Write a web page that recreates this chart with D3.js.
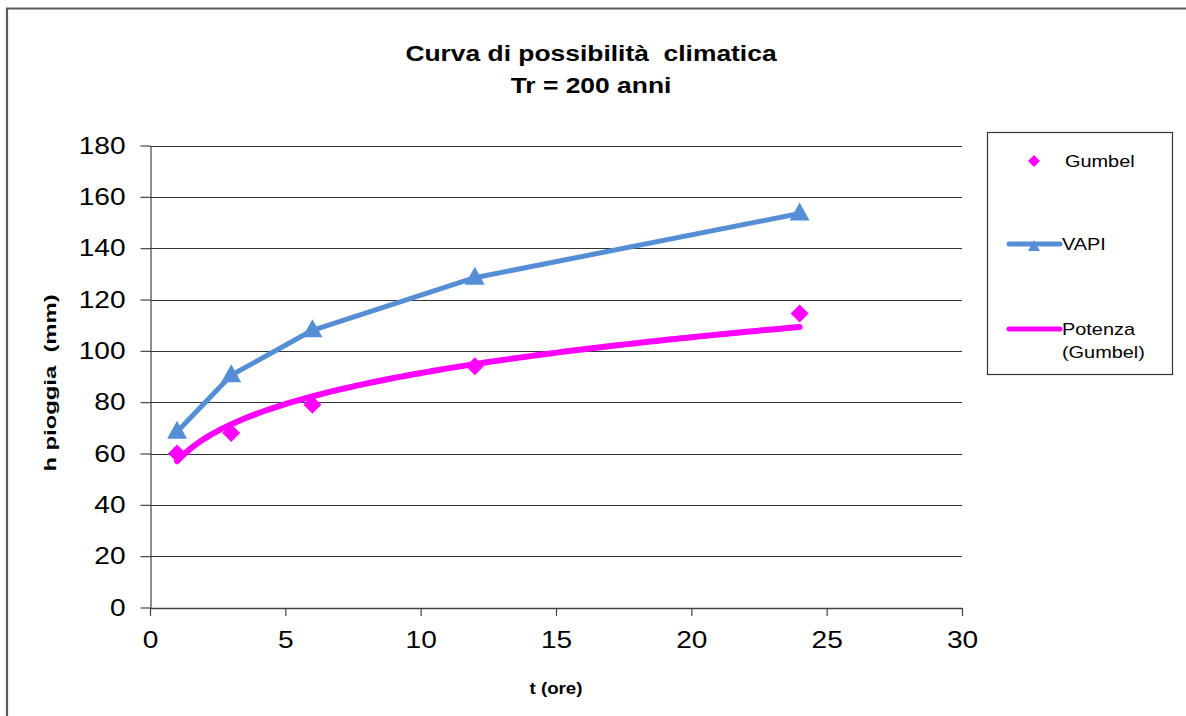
<!DOCTYPE html>
<html>
<head>
<meta charset="utf-8">
<script src="https://cdn.jsdelivr.net/npm/d3@7"></script>
<style>
  html, body { margin: 0; padding: 0; background: #fff; }
  svg { display: block; font-family: "Liberation Sans", Arial, sans-serif; }
  text { white-space: pre; }
</style>
</head>
<body>
<svg id="chart" width="1186" height="716"></svg>
<script>
// Durata dell'evento (ore)
const durations = [1, 3, 6, 12, 24];
// Altezze di pioggia (mm), Tr = 200 anni
const gumbelValues = [60, 68, 79, 94, 114.5];
const vapiValues = [68.5, 90.5, 108, 128.5, 153.5];
// Tick degli assi
const xTicks = [0, 5, 10, 15, 20, 25, 30];
const yTicks = [0, 20, 40, 60, 80, 100, 120, 140, 160, 180];

const titleLines = ["Curva di possibilità  climatica", "Tr = 200 anni"];
const legendLabels = ["Gumbel", "VAPI", ["Potenza", "(Gumbel)"]];

// i testi del grafico sono leggermente allargati nel verso di scrittura
function widen(factor) {
  return sel => sel.each(function () {
    const w = this.getComputedTextLength();
    d3.select(this).attr("textLength", w * factor).attr("lengthAdjust", "spacingAndGlyphs");
  });
}

const svg = d3.select("#chart");
const plot = { left: 150, right: 962, top: 145.5, bottom: 607.5 };

const x = d3.scaleLinear().domain([0, 30]).range([plot.left, plot.right]);
const y = d3.scaleLinear().domain([0, 180]).range([plot.bottom, plot.top]);

// cornice esterna
svg.append("path")
  .attr("d", "M7,716 L7,8.5 L1186,8.5")
  .attr("fill", "none").attr("stroke", "#5a5a5a").attr("stroke-width", 2.2);

// titolo
svg.append("g").selectAll("text").data(titleLines).join("text")
  .attr("x", 591).attr("y", (d, i) => 61 + i * 32)
  .attr("text-anchor", "middle")
  .attr("font-size", 22).attr("font-weight", "bold").attr("fill", "#000")
  .text(d => d)
  .call(widen(1.2));

// griglia orizzontale
svg.append("g").selectAll("line").data(yTicks.filter(v => v > 0)).join("line")
  .attr("x1", plot.left).attr("x2", plot.right)
  .attr("y1", d => Math.round(y(d)) + 0.5).attr("y2", d => Math.round(y(d)) + 0.5)
  .attr("stroke", "#333").attr("stroke-width", 1.2);

// asse Y
const yAxis = svg.append("g").attr("transform", `translate(${plot.left + 0.5},0)`)
  .call(d3.axisLeft(y).tickValues(yTicks).tickSize(10).tickPadding(15).tickSizeOuter(0));
yAxis.select(".domain").attr("stroke", "#444").attr("stroke-width", 1.2);
yAxis.selectAll(".tick line").attr("stroke", "#444").attr("stroke-width", 1.2);
yAxis.selectAll(".tick text").attr("font-size", 24).attr("fill", "#000")
  .attr("font-family", "'Liberation Sans', Arial, sans-serif")
  .call(widen(1.17));

// asse X
const xAxis = svg.append("g").attr("transform", `translate(0,${plot.bottom + 0.5})`)
  .call(d3.axisBottom(x).tickValues(xTicks).tickSize(8).tickPadding(15).tickSizeOuter(0));
xAxis.select(".domain").attr("stroke", "#444").attr("stroke-width", 1.4);
xAxis.selectAll(".tick line").attr("stroke", "#444").attr("stroke-width", 1.2);
xAxis.selectAll(".tick text").attr("font-size", 24).attr("fill", "#000")
  .attr("font-family", "'Liberation Sans', Arial, sans-serif")
  .call(widen(1.17));

// titoli degli assi
svg.append("text")
  .attr("x", 556).attr("y", 694).attr("text-anchor", "middle")
  .attr("font-size", 16).attr("font-weight", "bold").text("t (ore)")
  .call(widen(1.17));
svg.append("text")
  .attr("transform", "translate(56,383) rotate(-90)").attr("text-anchor", "middle")
  .attr("font-size", 17).attr("font-weight", "bold").text("h pioggia  (mm)")
  .call(widen(1.4));

const blue = "#558ED5";
const magenta = "#FF00FF";

const gumbel = durations.map((t, i) => ({ t, h: gumbelValues[i] }));
const vapi = durations.map((t, i) => ({ t, h: vapiValues[i] }));

// linea di tendenza di potenza h = a t^n (minimi quadrati su log-log)
const lx = gumbel.map(d => Math.log(d.t));
const ly = gumbel.map(d => Math.log(d.h));
const mx = d3.mean(lx), my = d3.mean(ly);
const nExp = d3.sum(lx.map((v, i) => (v - mx) * (ly[i] - my))) / d3.sum(lx.map(v => (v - mx) ** 2));
const aCoef = Math.exp(my - nExp * mx);
const tFirst = d3.min(durations), tLast = d3.max(durations);
const trend = d3.range(0, 101).map(k => {
  const t = tFirst + (tLast - tFirst) * k / 100;
  return { t, h: aCoef * Math.pow(t, nExp) };
});

const line = d3.line().x(d => x(d.t)).y(d => y(d.h));

// VAPI
svg.append("path").datum(vapi).attr("d", line)
  .attr("fill", "none").attr("stroke", blue).attr("stroke-width", 5).attr("stroke-linejoin", "round");
svg.append("g").selectAll("path").data(vapi).join("path")
  .attr("transform", d => `translate(${x(d.t)},${y(d.h)})`)
  .attr("d", "M0,-11 L10,7 L-10,7 Z").attr("fill", blue);

// Gumbel (punti)
svg.append("g").selectAll("path").data(gumbel).join("path")
  .attr("transform", d => `translate(${x(d.t)},${y(d.h)})`)
  .attr("d", "M0,-9 L9,0 L0,9 L-9,0 Z").attr("fill", magenta);

// Potenza (Gumbel)
svg.append("path").datum(trend).attr("d", line)
  .attr("fill", "none").attr("stroke", magenta).attr("stroke-width", 6).attr("stroke-linecap", "round");

// legenda
const lg = svg.append("g");
lg.append("rect").attr("x", 987.5).attr("y", 132.5).attr("width", 185).attr("height", 242)
  .attr("fill", "#fff").attr("stroke", "#333").attr("stroke-width", 1.2);
lg.append("path").attr("transform", "translate(1034,161)")
  .attr("d", "M0,-6 L6,0 L0,6 L-6,0 Z").attr("fill", magenta);
lg.append("line").attr("x1", 1009).attr("x2", 1060).attr("y1", 244).attr("y2", 244)
  .attr("stroke", blue).attr("stroke-width", 5).attr("stroke-linecap", "round");
lg.append("path").attr("transform", "translate(1034,246)")
  .attr("d", "M0,-6 L6,5 L-6,5 Z").attr("fill", blue);
lg.append("line").attr("x1", 1009).attr("x2", 1060).attr("y1", 329).attr("y2", 329)
  .attr("stroke", magenta).attr("stroke-width", 5).attr("stroke-linecap", "round");
lg.append("text").attr("x", 1065).attr("y", 167).attr("font-size", 17).text(legendLabels[0]).call(widen(1.17));
lg.append("text").attr("x", 1062).attr("y", 250).attr("font-size", 17).text(legendLabels[1]).call(widen(1.17));
lg.append("g").selectAll("text").data(legendLabels[2]).join("text")
  .attr("x", 1062).attr("y", (d, i) => 335 + i * 23).attr("font-size", 17).text(d => d).call(widen(1.17));
</script>
</body>
</html>
